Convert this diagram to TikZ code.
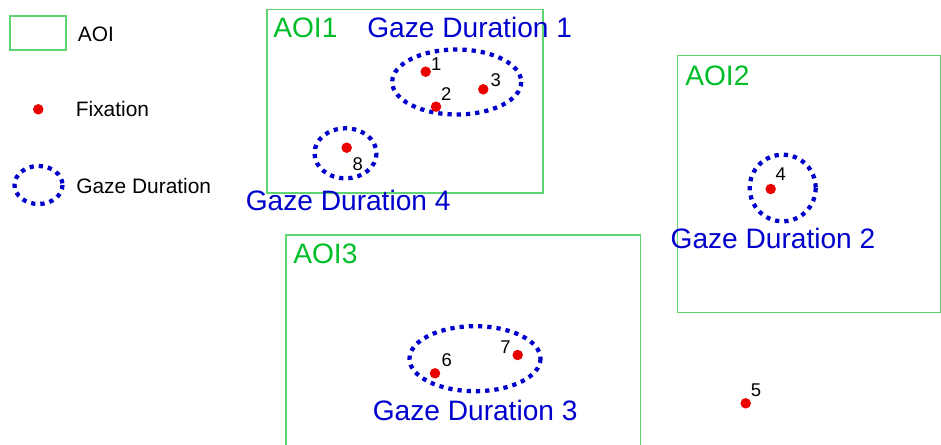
\documentclass[tikz,border=0pt]{standalone}
\usepackage{fontspec}
\setmainfont{Liberation Sans}
\definecolor{aoiline}{RGB}{95,212,115}
\definecolor{aoitext}{RGB}{0,190,40}
\definecolor{gazeblue}{RGB}{0,0,205}
\definecolor{fixred}{RGB}{235,0,0}
\tikzset{
  aoibox/.style={draw=aoiline, line width=0.6pt},
  gaze/.style={draw=gazeblue, line width=0.085cm, dash pattern=on 0.085cm off 0.1cm},
  fix/.style={circle, fill=fixred, inner sep=0pt, minimum size=0.21cm},
  num/.style={inner sep=0pt, font=\fontsize{10.5pt}{11pt}\selectfont},
  aoilab/.style={inner sep=0pt, anchor=base west, text=aoitext, font=\fontsize{16pt}{17pt}\selectfont},
  gazelab/.style={inner sep=0pt, anchor=base west, text=gazeblue, font=\fontsize{16pt}{17pt}\selectfont},
  leglab/.style={inner sep=0pt, anchor=base west, font=\fontsize{11.9pt}{13pt}\selectfont},
}
\begin{document}
\begin{tikzpicture}[x=0.02cm, y=-0.02cm]
\useasboundingbox (0,0) rectangle (941,444);
% legend
\draw[aoibox] (10,16) rectangle (66,50);
\node[leglab] (lAOI) at (77.5,41.7) {AOI};
\node[fix] (lfix) at (38.3,109.3) {};
\node[leglab] (lFix) at (75.5,116.7) {Fixation};
\draw[gaze] (38.5,185) ellipse [x radius=24, y radius=19];
\node[leglab] (lGaze) at (76,193.3) {Gaze Duration};
% AOI1
\draw[aoibox] (267,9.5) rectangle (543,193);
\node[aoilab] (aoi1) at (273,37.3) {AOI1};
\node[gazelab] (gd1) at (367,37) {Gaze Duration 1};
\draw[gaze] (456.7,82) ellipse [x radius=64.5, y radius=32.5];
\node[fix] (f1) at (425.7,71.7) {};
\node[fix] (f2) at (436,106.7) {};
\node[fix] (f3) at (483.3,89.3) {};
\node[num] (n1) at (436.3,64.5) {1};
\node[num] (n2) at (446.3,94) {2};
\node[num] (n3) at (495.7,80.3) {3};
\draw[gaze] (345.5,153.3) ellipse [x radius=31, y radius=25];
\node[fix] (f8) at (346.7,147.7) {};
\node[num] (n8) at (357.7,163.7) {8};
\node[gazelab] (gd4) at (245.5,210) {Gaze Duration 4};
% AOI2
\draw[aoibox] (677.5,55.5) rectangle (940.5,312.3);
\node[aoilab] (aoi2) at (685,85) {AOI2};
\draw[gaze] (782.7,188) ellipse [x radius=33, y radius=33.3];
\node[fix] (f4) at (770.7,189) {};
\node[num] (n4) at (780.8,174.3) {4};
\node[gazelab] (gd2) at (670.3,248.3) {Gaze Duration 2};
% AOI3
\draw[aoibox] (286,235) rectangle (640.7,460);
\node[aoilab] (aoi3) at (293,263) {AOI3};
\draw[gaze] (475,358.7) ellipse [x radius=65.5, y radius=32.5];
\node[fix] (f6) at (435,373.3) {};
\node[fix] (f7) at (517.7,355) {};
\node[num] (n6) at (446.7,359.7) {6};
\node[num] (n7) at (505.5,347) {7};
\node[gazelab] (gd3) at (372.5,420) {Gaze Duration 3};
% lone fixation
\node[fix] (f5) at (745.7,403.3) {};
\node[num] (n5) at (756,390.3) {5};
\end{tikzpicture}
\end{document}
